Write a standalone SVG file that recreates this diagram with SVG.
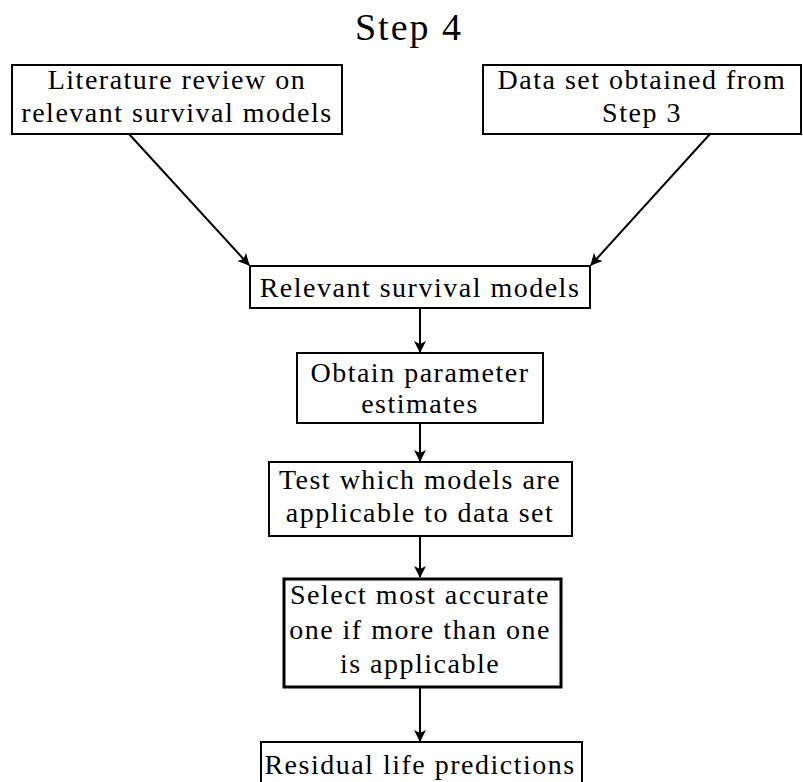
<svg xmlns="http://www.w3.org/2000/svg" width="803" height="782" viewBox="0 0 803 782">
  <style>
    .box { fill: #fff; stroke: #000; stroke-width: 2; }
    .thick { stroke-width: 3; }
    .lbl { font-family: "Liberation Serif", "DejaVu Serif", serif; font-size: 28px; letter-spacing: 1.5px; fill: #000; text-anchor: middle; }
    .title { font-family: "Liberation Serif", "DejaVu Serif", serif; font-size: 38px; letter-spacing: 2px; fill: #000; text-anchor: middle; }
    .edge { stroke: #000; stroke-width: 2; fill: none; marker-end: url(#arrow); }
  </style>
  <defs>
    <marker id="arrow" viewBox="0 0 12 12" refX="11" refY="6" markerWidth="12" markerHeight="12" markerUnits="userSpaceOnUse" orient="auto">
      <path d="M0,0 L12,6 L0,12 L3,6 Z" fill="#000"/>
    </marker>
  </defs>

  <text class="title" x="409" y="40">Step 4</text>

  <g id="connectors">
    <line class="edge" x1="129" y1="134" x2="249" y2="265"/>
    <line class="edge" x1="710" y1="134" x2="591" y2="265"/>
    <line class="edge" x1="420" y1="308" x2="420" y2="352"/>
    <line class="edge" x1="420" y1="423" x2="420" y2="461"/>
    <line class="edge" x1="420" y1="536" x2="420" y2="577"/>
    <line class="edge" x1="420" y1="688" x2="420" y2="741"/>
  </g>

  <g id="literature">
    <rect class="box" x="12" y="65" width="330" height="69"/>
    <text class="lbl" x="177" y="89">Literature review on</text>
    <text class="lbl" x="177" y="122">relevant survival models</text>
  </g>

  <g id="dataset">
    <rect class="box" x="483" y="65" width="318" height="69"/>
    <text class="lbl" x="642" y="89">Data set obtained from</text>
    <text class="lbl" x="642" y="122">Step 3</text>
  </g>

  <g id="relevant">
    <rect class="box" x="250" y="266" width="340" height="42"/>
    <text class="lbl" x="420" y="297">Relevant survival models</text>
  </g>

  <g id="obtain">
    <rect class="box" x="297" y="353" width="246" height="70"/>
    <text class="lbl" x="420" y="382">Obtain parameter</text>
    <text class="lbl" x="420" y="413">estimates</text>
  </g>

  <g id="test">
    <rect class="box" x="269" y="462" width="303" height="74"/>
    <text class="lbl" x="420" y="489">Test which models are</text>
    <text class="lbl" x="420" y="522">applicable to data set</text>
  </g>

  <g id="select">
    <rect class="box thick" x="284" y="579" width="277" height="108"/>
    <text class="lbl" x="420" y="604">Select most accurate</text>
    <text class="lbl" x="420" y="639">one if more than one</text>
    <text class="lbl" x="420" y="673">is applicable</text>
  </g>

  <g id="residual">
    <rect class="box" x="261" y="742" width="321" height="45"/>
    <text class="lbl" x="420" y="774">Residual life predictions</text>
  </g>
</svg>
